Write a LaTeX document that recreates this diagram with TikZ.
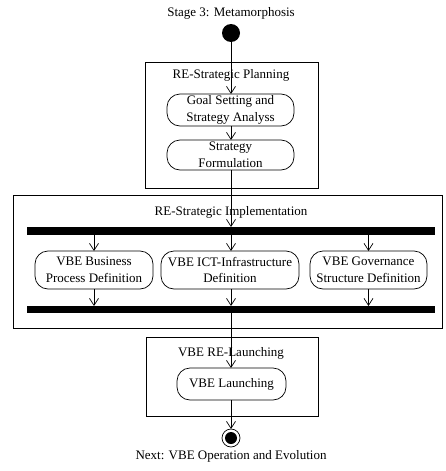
\documentclass[tikz,border=0pt]{standalone}
\usepackage{fontspec}
\setmainfont{Liberation Serif}
\usetikzlibrary{arrows.meta}
\begin{document}
\begin{tikzpicture}[x=1pt,y=-1pt,
  font=\fontsize{13}{16.5}\selectfont,
  every node/.style={inner sep=0pt, outer sep=0pt},
  act/.style={draw, rounded corners=13pt, align=center, line width=0.7pt},
  grp/.style={draw, line width=0.7pt},
  bar/.style={fill=black, draw=none},
  flow/.style={line width=0.7pt, -{Straight Barb[length=7pt,width=9pt,line width=0.7pt]}},
  lbl/.style={align=center}]
\useasboundingbox (0,0) rectangle (445,471);
% group boxes
\node[grp, minimum width=173pt, minimum height=126pt] (gplan) at (231.5,125) {};
\node[grp, minimum width=429pt, minimum height=133pt] (gimpl) at (227.5,261.5) {};
\node[grp, minimum width=172pt, minimum height=79pt] (glaunch) at (232,376.5) {};
% labels
\node[lbl] (title) at (231,13) {Stage 3: Metamorphosis};
\node[lbl] (lplan) at (231,75) {RE-Strategic Planning};
\node[lbl] (limpl) at (231,212) {RE-Strategic Implementation};
\node[lbl] (llaunch) at (231,353) {VBE RE-Launching};
\node[lbl] (lnext) at (231,456) {Next: VBE Operation and Evolution};
% start and end
\node[circle, fill=black, minimum size=18pt] (start) at (231,33) {};
\node[circle, draw, line width=0.7pt, minimum size=18pt] (endo) at (231,438) {};
\node[circle, fill=black, minimum size=12pt] (endi) at (231,438) {};
% actions
\node[act, minimum width=127pt, minimum height=32pt] (goal) at (230.5,110) {Goal Setting and\\Strategy Analyss};
\node[act, minimum width=127pt, minimum height=30pt] (form) at (230.5,155) {Strategy\\Formulation};
\node[bar, minimum width=408pt, minimum height=8pt] (fork) at (231,231) {};
\node[act, minimum width=118pt, minimum height=38pt] (bp) at (94,270) {VBE Business\\Process Definition};
\node[act, minimum width=138pt, minimum height=38pt] (ict) at (230,270) {VBE ICT-Infrastructure\\Definition};
\node[act, minimum width=117pt, minimum height=38pt] (gov) at (368.5,270) {VBE Governance\\Structure Definition};
\node[bar, minimum width=408pt, minimum height=7pt] (join) at (231,309.5) {};
\node[act, minimum width=109pt, minimum height=32pt] (launch) at (231.5,384) {VBE Launching};
% flows
\draw[flow] (start) -- (goal.north -| start);
\draw[flow] (goal.south -| start) -- (form.north -| start);
\draw[flow] (form.south -| start) -- (fork.north -| start);
\draw[flow] (fork.south -| bp) -- (bp.north);
\draw[flow] (fork.south -| start) -- (ict.north -| start);
\draw[flow] (fork.south -| gov) -- (gov.north);
\draw[flow] (bp.south) -- (join.north -| bp);
\draw[flow] (ict.south -| start) -- (join.north -| start);
\draw[flow] (gov.south) -- (join.north -| gov);
\draw[flow] (join.south -| start) -- (launch.north -| start);
\draw[flow] (launch.south -| start) -- (endo.north);
\end{tikzpicture}
\end{document}
